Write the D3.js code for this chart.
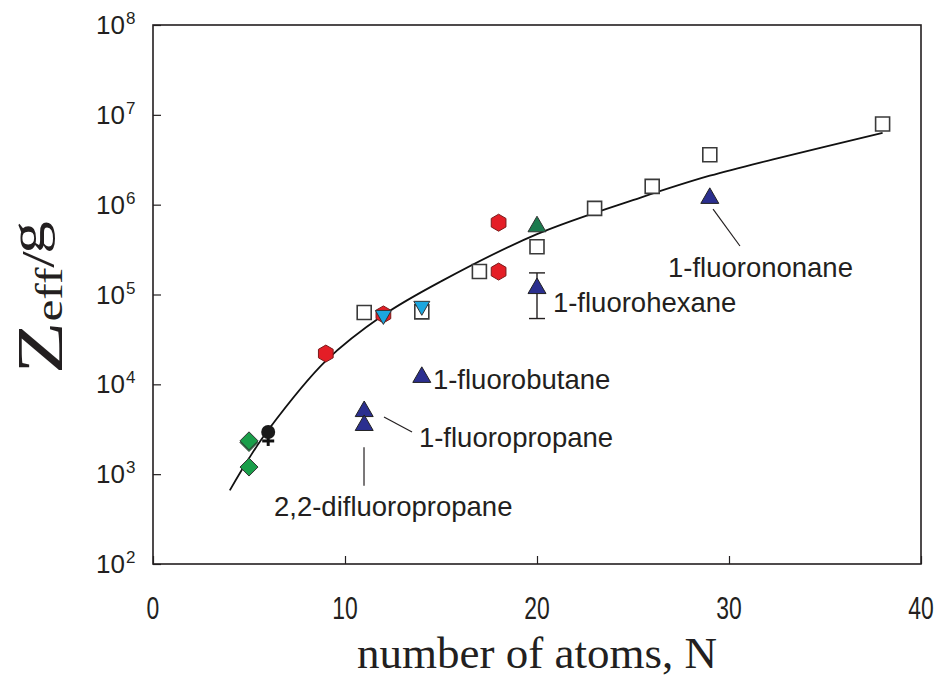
<!DOCTYPE html>
<html>
<head>
<meta charset="utf-8">
<script src="https://cdn.jsdelivr.net/npm/d3@7"></script>
<style>
  body { margin: 0; background: #fff; }
  svg { display: block; }
  .tick-label { font-family: "Liberation Sans", Arial, sans-serif; fill: #231f20; }
  .note { font-family: "Liberation Sans", Arial, sans-serif; font-size: 27.5px; fill: #231f20; }
</style>
</head>
<body>
<div id="chart"></div>
<script>
const size = { w: 938, h: 679 };
const margin = { t: 25, r: 17, b: 115, l: 153 };

// open squares
const squareN = [11, 14, 17, 20, 23, 26, 29, 38];
const squareZ = [6.3e4, 6.4e4, 1.8e5, 3.4e5, 9.1e5, 1.6e6, 3.6e6, 7.9e6];
// red hexagons
const hexN = [9, 12, 18, 18];
const hexZ = [2.2e4, 6.0e4, 6.3e5, 1.8e5];
// blue triangles (fluoroalkanes)
const blueN = [11, 11, 14, 20, 29];
const blueZ = [5.0e3, 3.5e3, 1.2e4, 1.17e5, 1.18e6];
// error bar on 1-fluorohexane
const errN = 20;
const errLo = 5.4e4;
const errHi = 1.74e5;
// green triangle
const greenTriN = [20];
const greenTriZ = [5.7e5];
// cyan down triangles
const cyanN = [12, 14];
const cyanZ = [5.7e4, 7.2e4];
// green diamonds
const diamondN = [5, 5, 5];
const diamondZ = [2.25e3, 2.35e3, 1.2e3];
// black circle
const circleN = [6];
const circleZ = [2.95e3];
// fitted curve
const curveN = [4, 5, 6, 9, 12, 15, 20, 25.4, 29, 32.3, 38];
const curveZ = [660, 1500, 3100, 1.82e4, 5.9e4, 1.4e5, 4.7e5, 1.2e6, 2.1e6, 3.2e6, 6.3e6];

const xTicks = [0, 10, 20, 30, 40];
const yExps = [2, 3, 4, 5, 6, 7, 8];
const noteTexts = ["1-fluorononane", "1-fluorohexane", "1-fluorobutane", "1-fluoropropane", "2,2-difluoropropane"];

const svg = d3
	.select("#chart")
	.append("svg")
	.attr("width", size.w)
	.attr("height", size.h);

const x = d3.scaleLinear().domain([0, 40]).range([margin.l, size.w - margin.r]);
const y = d3.scaleLog().domain([1e2, 1e8]).range([size.h - margin.b, margin.t]);

const ink = "#231f20";

// frame
svg.append("rect")
	.attr("x", x(0))
	.attr("y", y(1e8))
	.attr("width", x(40) - x(0))
	.attr("height", y(1e2) - y(1e8))
	.attr("fill", "none")
	.attr("stroke", ink)
	.attr("stroke-width", 1.6);

// x ticks (inward)
const xAxis = svg.append("g").attr("transform", `translate(0, ${y(1e2)})`)
	.call(d3.axisBottom(x).tickValues(xTicks).tickSizeInner(-8).tickSizeOuter(0).tickFormat(""));
xAxis.select(".domain").remove();
xAxis.selectAll("line").attr("stroke", ink).attr("stroke-width", 1.2);

svg.append("g")
	.selectAll("text")
	.data(xTicks)
	.join("text")
	.attr("class", "tick-label")
	.attr("x", (d) => x(d))
	.attr("y", y(1e2) + 55)
	.attr("text-anchor", "middle")
	.attr("font-size", 31)
	.attr("transform", (d) => `translate(${x(d)}, 0) scale(0.74, 1) translate(${-x(d)}, 0)`)
	.text((d) => d);

// y ticks (inward)
const yAxis = svg.append("g").attr("transform", `translate(${x(0)}, 0)`)
	.call(d3.axisLeft(y).tickValues(yExps.map((e) => Math.pow(10, e))).tickSizeInner(-8).tickSizeOuter(0).tickFormat(""));
yAxis.select(".domain").remove();
yAxis.selectAll("line").attr("stroke", ink).attr("stroke-width", 1.2);

svg.append("g")
	.selectAll("text")
	.data(yExps)
	.join("text")
	.attr("class", "tick-label")
	.attr("x", x(0) - 28)
	.attr("y", (d) => y(Math.pow(10, d)) + 9)
	.attr("text-anchor", "end")
	.attr("font-size", 26)
	.text("10");
svg.append("g")
	.selectAll("text")
	.data(yExps)
	.join("text")
	.attr("class", "tick-label")
	.attr("x", x(0) - 27)
	.attr("y", (d) => y(Math.pow(10, d)) - 1)
	.attr("font-size", 17)
	.text((d) => d);

// axis titles
svg.append("text")
	.attr("x", (x(0) + x(40)) / 2)
	.attr("y", 668)
	.attr("text-anchor", "middle")
	.attr("font-family", "'Liberation Serif', 'Times New Roman', serif")
	.attr("font-size", 45)
	.attr("fill", ink)
	.text("number of atoms, N");

const yTitle = svg.append("text")
	.attr("transform", "translate(62, 374) rotate(-90) scale(1.3, 1)")
	.attr("font-family", "'Liberation Serif', 'Times New Roman', serif")
	.attr("fill", ink);
yTitle.append("tspan").attr("font-size", 66).text("Z");
yTitle.append("tspan").attr("font-size", 38).text("eff");
yTitle.append("tspan").attr("font-size", 46).attr("dy", -8).text("/");
yTitle.append("tspan").attr("font-size", 50).attr("dy", -10).attr("dx", -2).text("g");

// fitted curve
const line = d3.line()
	.x((d) => x(d[0]))
	.y((d) => y(d[1]))
	.curve(d3.curveCatmullRom);
svg.append("path")
	.datum(d3.zip(curveN, curveZ))
	.attr("d", line)
	.attr("fill", "none")
	.attr("stroke", "#111")
	.attr("stroke-width", 1.8);

// annotations
const notes = svg.append("g");
function leader(n1, z1, n2, z2) {
	notes.append("line")
		.attr("x1", x(n1)).attr("y1", y(z1))
		.attr("x2", x(n2)).attr("y2", y(z2))
		.attr("stroke", ink)
		.attr("stroke-width", 1.2);
}
function note(text, n, z) {
	notes.append("text").attr("class", "note").attr("x", x(n)).attr("y", y(z)).text(text);
}
leader(29.17, Math.pow(10, 5.95), 30.57, Math.pow(10, 5.54));
leader(12.03, Math.pow(10, 3.636), 13.49, Math.pow(10, 3.47));
leader(10.99, Math.pow(10, 3.3), 10.99, Math.pow(10, 2.87));
note(noteTexts[0], 26.82, Math.pow(10, 5.2));
note(noteTexts[1], 20.83, Math.pow(10, 4.81));
note(noteTexts[2], 14.58, Math.pow(10, 3.945));
note(noteTexts[3], 13.85, Math.pow(10, 3.305));
note(noteTexts[4], 6.3, Math.pow(10, 2.53));

// error bar
const eb = svg.append("g").attr("stroke", ink).attr("stroke-width", 1.4);
eb.append("line").attr("x1", x(errN)).attr("x2", x(errN)).attr("y1", y(errLo)).attr("y2", y(errHi));
[errLo, errHi].forEach((v) => {
	eb.append("line").attr("x1", x(errN) - 8).attr("x2", x(errN) + 8).attr("y1", y(v)).attr("y2", y(v));
});

// markers
function hexPath(r) {
	const p = d3.path();
	for (let i = 0; i < 6; i++) {
		const a = -Math.PI / 2 + (i * Math.PI) / 3;
		if (i === 0) p.moveTo(r * Math.cos(a), r * Math.sin(a));
		else p.lineTo(r * Math.cos(a), r * Math.sin(a));
	}
	p.closePath();
	return p.toString();
}
function plot(ns, zs, pathD, fill, stroke, sw) {
	svg.append("g")
		.selectAll("path")
		.data(d3.zip(ns, zs))
		.join("path")
		.attr("transform", (d) => `translate(${x(d[0])}, ${y(d[1])})`)
		.attr("d", pathD)
		.attr("fill", fill)
		.attr("stroke", stroke)
		.attr("stroke-width", sw);
}

const sq = d3.symbol(d3.symbolSquare, 196)();
const tri = d3.symbol(d3.symbolTriangle, 140)();
const dia = "M0,-9L9,0L0,9L-9,0Z";
const down = "M-8,-6L8,-6L0,8Z";

plot(squareN, squareZ, sq, "#fff", "#3a3a3a", 1.6);
plot(greenTriN, greenTriZ, tri, "#1b7a4e", "#333", 1);
plot(hexN, hexZ, hexPath(8.5), "#e41e26", "#7a1a1a", 1);
plot(cyanN, cyanZ, down, "#1ba6df", "#333", 1);
plot(blueN, blueZ, tri, "#2b2f8f", "#222", 1);
plot(diamondN.slice(0, 1), diamondZ.slice(0, 1), dia, "#1a9e4a", "#333", 1);
plot(diamondN.slice(1), diamondZ.slice(1), dia, "#1a9e4a", "#333", 1);

// black circle with cross
const cg = svg.append("g")
	.selectAll("g")
	.data(d3.zip(circleN, circleZ))
	.join("g")
	.attr("transform", (d) => `translate(${x(d[0])}, ${y(d[1])})`);
cg.append("line").attr("x1", 0).attr("x2", 0).attr("y1", 4).attr("y2", 14).attr("stroke", "#111").attr("stroke-width", 3);
cg.append("line").attr("x1", -6).attr("x2", 6).attr("y1", 9).attr("y2", 9).attr("stroke", "#111").attr("stroke-width", 3);
cg.append("circle").attr("r", 7).attr("fill", "#1a1a1a");
</script>
</body>
</html>
